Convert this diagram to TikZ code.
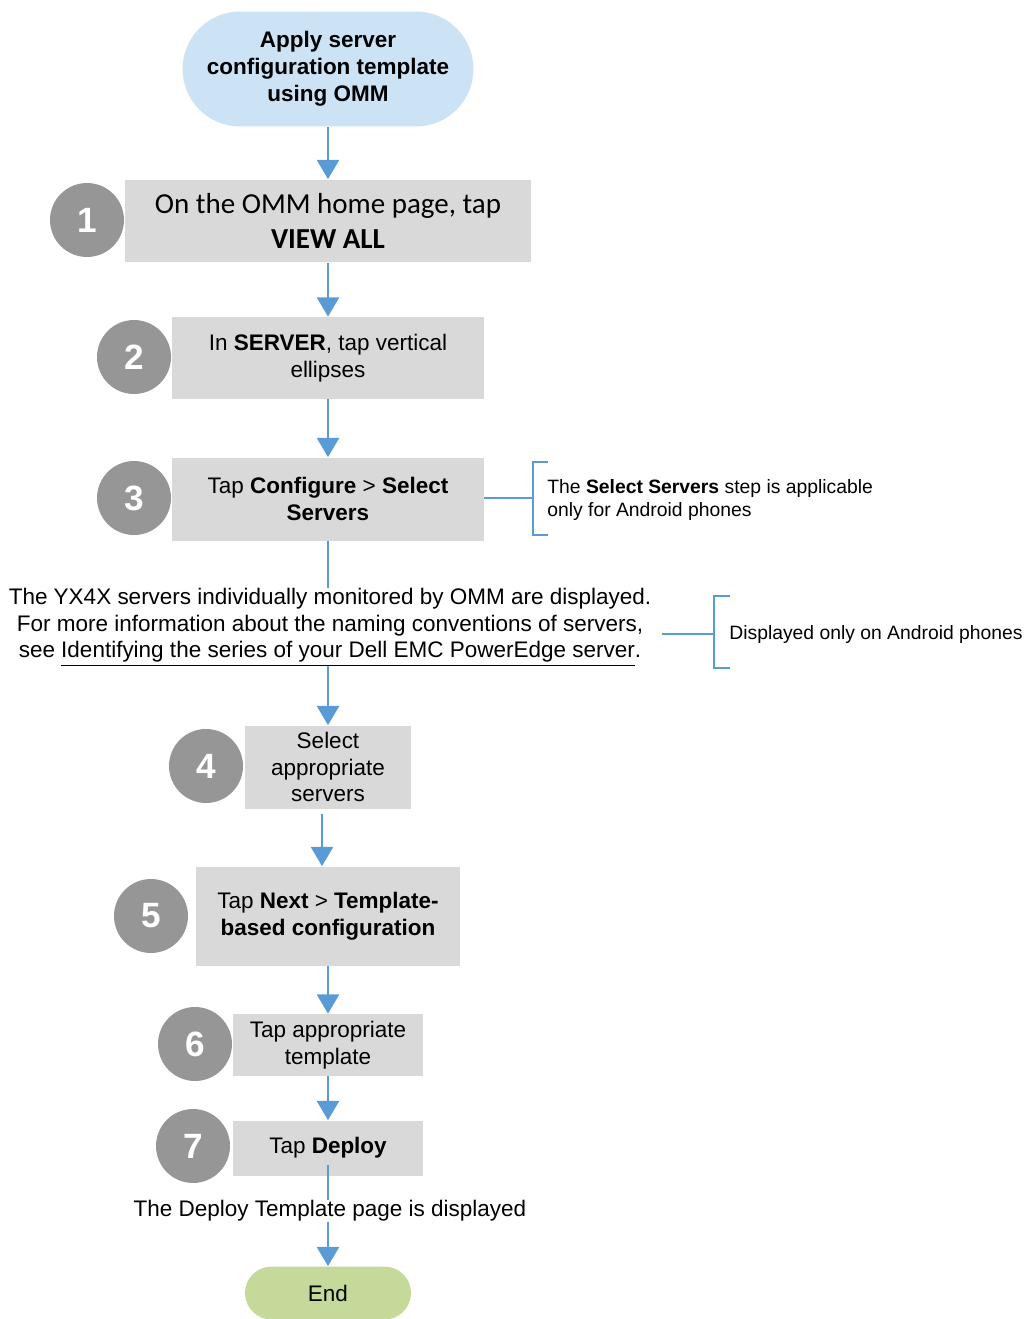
\documentclass[tikz,border=0pt]{standalone}
\usepackage{fontspec}
\setmainfont{Liberation Sans}
\newfontfamily\calibri{Carlito}
\usetikzlibrary{arrows.meta,positioning,calc}
\definecolor{startblue}{RGB}{204,227,245}
\definecolor{boxgray}{RGB}{217,217,217}
\definecolor{numgray}{RGB}{150,150,150}
\definecolor{flowblue}{RGB}{91,155,213}
\definecolor{endgreen}{RGB}{197,217,154}

\begin{document}
\begin{tikzpicture}[x=0.02cm,y=-0.02cm,
  stepbox/.style={fill=boxgray,inner sep=0pt,align=center,font=\fontsize{12.8}{15.3}\selectfont},
  num/.style={circle,fill=numgray,text=white,minimum size=1.48cm,inner sep=0pt,font=\fontsize{20}{24}\selectfont\bfseries},
  flow/.style={-{Triangle[length=11pt,width=12.5pt]},line width=1.7pt,draw=flowblue},
  plain/.style={line width=1.7pt,draw=flowblue},
  bracket/.style={line width=1.1pt,draw=flowblue},
  note/.style={align=left,anchor=west,inner sep=0pt,font=\fontsize{11}{13.6}\selectfont}]
\useasboundingbox (0,0) rectangle (1027,1319);
\node[stepbox,fill=startblue,rounded corners=1.15cm,minimum width=5.82cm,minimum height=2.3cm,font=\bfseries\fontsize{12.8}{15.3}\selectfont] (start) at (328,69) {Apply server\\configuration template\\using OMM};
\node[stepbox,minimum width=8.14cm,minimum height=1.66cm,font=\calibri\fontsize{16.5}{19.8}\selectfont] (s1) at (328,221) {On the OMM home page, tap\\\textbf{VIEW ALL}};
\node[num] (c1) at (87,220) {1};
\node[stepbox,minimum width=6.24cm,minimum height=1.64cm] (s2) at (328,358) {In \textbf{SERVER}, tap vertical\\ellipses};
\node[num] (c2) at (134,357) {2};
\node[stepbox,minimum width=6.24cm,minimum height=1.66cm] (s3) at (328,499) {Tap \textbf{Configure} > \textbf{Select}\\\textbf{Servers}};
\node[num] (c3) at (134,498) {3};
\node[note] (note1) at (547,500) {The \textbf{Select Servers} step is applicable\\only for Android phones};
\node[align=center,inner sep=0pt,font=\fontsize{12.8}{15.3}\selectfont] (info) at (330,627) {The YX4X servers individually monitored by OMM are displayed.\\For more information about the naming conventions of servers,\\see \underline{Identifying the series of your Dell EMC PowerEdge server}.};
\node[note] (note2) at (729,634) {Displayed only on Android phones};
\node[stepbox,minimum width=3.32cm,minimum height=1.66cm] (s4) at (328,767) {Select\\appropriate\\servers};
\node[num] (c4) at (206,766) {4};
\node[stepbox,minimum width=5.28cm,minimum height=1.98cm] (s5) at (328,916) {Tap \textbf{Next} > \textbf{Template-}\\\textbf{based configuration}};
\node[num] (c5) at (151,916) {5};
\node[stepbox,minimum width=3.8cm,minimum height=1.24cm] (s6) at (328,1045) {Tap appropriate\\template};
\node[num] (c6) at (195,1044) {6};
\node[stepbox,minimum width=3.8cm,minimum height=1.1cm] (s7) at (328,1148) {Tap \textbf{Deploy}};
\node[num] (c7) at (193,1146) {7};
\node[inner sep=0pt,font=\fontsize{12.8}{15.3}\selectfont] (done) at (330,1211) {The Deploy Template page is displayed};
\node[stepbox,fill=endgreen,rounded corners=0.53cm,minimum width=3.32cm,minimum height=1.06cm] (end) at (328,1293) {End};
% flow
\draw[flow] (start) -- (s1);
\draw[flow] (s1) -- (s2);
\draw[flow] (s2) -- (s3);
\draw[plain] (s3) -- (s3 |- info.north);
\draw[flow] (s4 |- info.south) -- (s4);
\draw[flow] ([xshift=-0.12cm,yshift=-0.1cm]s4.south) -- ([xshift=-0.12cm]s5.north);
\draw[flow] (s5) -- (s6);
\draw[flow] (s6) -- (s7);
\draw[plain] ([yshift=0.22cm]s7.south) -- (s7 |- done.north);
\draw[flow] (end |- done.south) -- (end);
% callouts
\coordinate (k1) at (533,498);
\draw[bracket] (s3.east |- k1) -- (k1);
\draw[bracket] ($(k1)+(15,-36)$) -- ++(-15,0) -- ++(0,73) -- ++(15,0);
\coordinate (k2) at (714,634);
\draw[bracket] ([xshift=0.2cm]info.east |- k2) -- (k2);
\draw[bracket] ($(k2)+(16,-38)$) -- ++(-16,0) -- ++(0,72) -- ++(16,0);
\end{tikzpicture}
\end{document}
